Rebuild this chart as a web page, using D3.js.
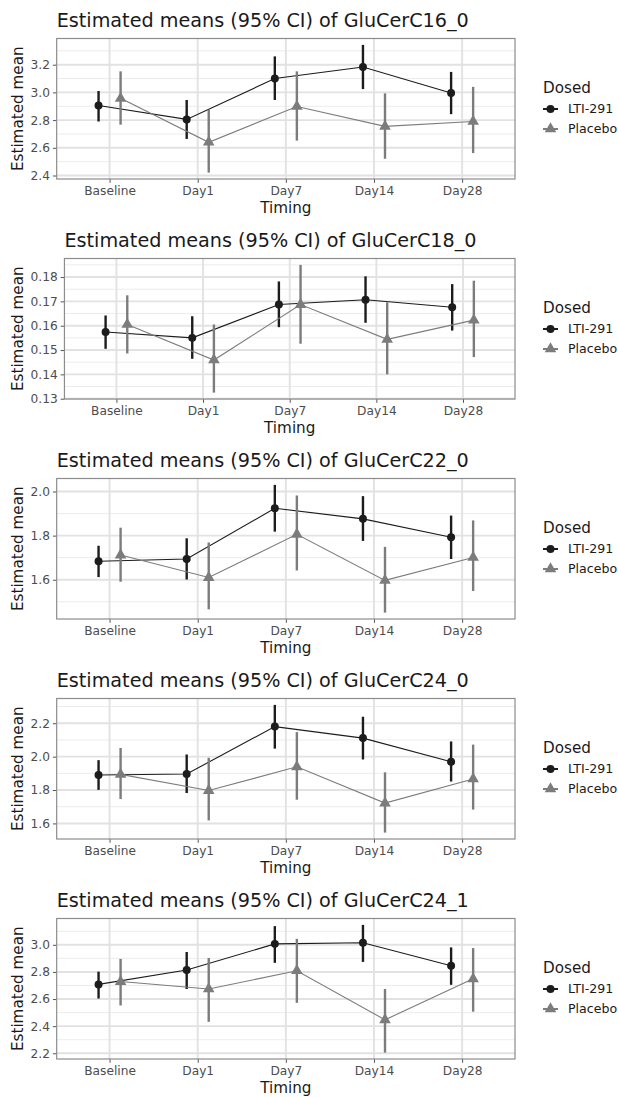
<!DOCTYPE html>
<html>
<head>
<meta charset="utf-8">
<script src="https://cdn.jsdelivr.net/npm/d3@7"></script>
<style>
body { margin: 0; background: #fff; }
text { font-family: "DejaVu Sans", sans-serif; }
</style>
</head>
<body>
<div id="chart"></div>
<script>
var timings = ["Baseline", "Day1", "Day7", "Day14", "Day28"];
var groups  = ["LTI-291", "Placebo"];

// GluCerC16_0
var c16_0LtiMean = [2.905, 2.805, 3.100, 3.183, 2.995];
var c16_0LtiLo   = [2.790, 2.664, 2.945, 3.024, 2.843];
var c16_0LtiHi   = [3.010, 2.945, 3.260, 3.343, 3.148];
var c16_0PlaMean = [2.957, 2.640, 2.898, 2.755, 2.790];
var c16_0PlaLo   = [2.767, 2.421, 2.652, 2.521, 2.562];
var c16_0PlaHi   = [3.152, 2.874, 3.152, 2.993, 3.040];
var c16_0Ticks   = [2.4, 2.6, 2.8, 3.0, 3.2];

// GluCerC18_0
var c18_0LtiMean = [0.1574, 0.1550, 0.1687, 0.1707, 0.1676];
var c18_0LtiLo   = [0.1505, 0.1464, 0.1594, 0.1612, 0.1580];
var c18_0LtiHi   = [0.1642, 0.1639, 0.1782, 0.1803, 0.1771];
var c18_0PlaMean = [0.1605, 0.1459, 0.1687, 0.1544, 0.1623];
var c18_0PlaLo   = [0.1486, 0.1325, 0.1526, 0.1400, 0.1471];
var c18_0PlaHi   = [0.1725, 0.1605, 0.1850, 0.1696, 0.1785];
var c18_0Ticks   = [0.13, 0.14, 0.15, 0.16, 0.17, 0.18];

// GluCerC22_0
var c22_0LtiMean = [1.684, 1.694, 1.924, 1.876, 1.793];
var c22_0LtiLo   = [1.612, 1.601, 1.818, 1.776, 1.694];
var c22_0LtiHi   = [1.754, 1.788, 2.030, 1.979, 1.891];
var c22_0PlaMean = [1.712, 1.610, 1.806, 1.597, 1.701];
var c22_0PlaLo   = [1.591, 1.466, 1.642, 1.451, 1.549];
var c22_0PlaHi   = [1.836, 1.769, 1.982, 1.749, 1.869];
var c22_0Ticks   = [1.6, 1.8, 2.0];

// GluCerC24_0
var c24_0LtiMean = [1.890, 1.896, 2.180, 2.111, 1.969];
var c24_0LtiLo   = [1.801, 1.782, 2.048, 1.983, 1.851];
var c24_0LtiHi   = [1.979, 2.013, 2.310, 2.239, 2.091];
var c24_0PlaMean = [1.894, 1.797, 1.939, 1.722, 1.866];
var c24_0PlaLo   = [1.746, 1.618, 1.742, 1.545, 1.683];
var c24_0PlaHi   = [2.052, 1.993, 2.147, 1.906, 2.072];
var c24_0Ticks   = [1.6, 1.8, 2.0, 2.2];

// GluCerC24_1
var c24_1LtiMean = [2.708, 2.814, 3.007, 3.015, 2.845];
var c24_1LtiLo   = [2.604, 2.674, 2.867, 2.874, 2.705];
var c24_1LtiHi   = [2.802, 2.947, 3.138, 3.147, 2.981];
var c24_1PlaMean = [2.729, 2.674, 2.809, 2.447, 2.749];
var c24_1PlaLo   = [2.553, 2.432, 2.572, 2.205, 2.507];
var c24_1PlaHi   = [2.896, 2.903, 3.044, 2.674, 2.976];
var c24_1Ticks   = [2.2, 2.4, 2.6, 2.8, 3.0];

var panels = [
    { name: "GluCerC16_0", ticks: c16_0Ticks,
      series: [[c16_0LtiMean, c16_0LtiLo, c16_0LtiHi], [c16_0PlaMean, c16_0PlaLo, c16_0PlaHi]] },
    { name: "GluCerC18_0", ticks: c18_0Ticks,
      series: [[c18_0LtiMean, c18_0LtiLo, c18_0LtiHi], [c18_0PlaMean, c18_0PlaLo, c18_0PlaHi]] },
    { name: "GluCerC22_0", ticks: c22_0Ticks,
      series: [[c22_0LtiMean, c22_0LtiLo, c22_0LtiHi], [c22_0PlaMean, c22_0PlaLo, c22_0PlaHi]] },
    { name: "GluCerC24_0", ticks: c24_0Ticks,
      series: [[c24_0LtiMean, c24_0LtiLo, c24_0LtiHi], [c24_0PlaMean, c24_0PlaLo, c24_0PlaHi]] },
    { name: "GluCerC24_1", ticks: c24_1Ticks,
      series: [[c24_1LtiMean, c24_1LtiLo, c24_1LtiHi], [c24_1PlaMean, c24_1PlaLo, c24_1PlaHi]] }
];

var width  = 618,
    height = 1097;

var colors  = ["#1c1c1c", "#7c7c7c"];
var symbols = [d3.symbol().type(d3.symbolCircle).size(50), d3.symbol().type(d3.symbolTriangle).size(58)];
var dodge   = [-0.125, 0.125];

var panelH   = 220,
    plotTop  = 38.5,
    plotH    = 140.5,
    plotR    = 515,
    labelL   = 30.5;

var svg = d3.select("#chart")
    .append("svg")
    .attr("width", width)
    .attr("height", height);

panels.forEach(function(p, i) {
    var g = svg.append("g").attr("transform", "translate(0," + (i * panelH) + ")");

    var step = p.ticks[1] - p.ticks[0];
    var fmt  = d3.format("." + d3.precisionFixed(step) + "f");

    // measure widest y label, ggplot-style left edge
    var probe = g.append("text").style("font-size", "12.2px");
    var maxW = 0;
    p.ticks.forEach(function(t) {
        probe.text(fmt(t));
        maxW = Math.max(maxW, probe.node().getComputedTextLength());
    });
    probe.remove();
    var plotL = labelL + maxW + 6.8;

    var lows  = p.series[0][1].concat(p.series[1][1]);
    var highs = p.series[0][2].concat(p.series[1][2]);
    var lo = d3.min(lows), hi = d3.max(highs), pad = (hi - lo) * 0.05;

    var y = d3.scaleLinear()
        .domain([lo - pad, hi + pad])
        .range([plotTop + plotH, plotTop]);

    var x = d3.scalePoint()
        .domain(timings)
        .range([plotL, plotR])
        .padding(0.6);

    // grid
    var minor = [];
    for (var t = p.ticks[0] - step / 2; t <= p.ticks[p.ticks.length - 1] + step; t += step) {
        var v = +t.toFixed(6);
        if (v >= y.domain()[0] && v <= y.domain()[1]) minor.push(v);
    }
    g.append("g").selectAll("line")
        .data(minor)
        .enter().append("line")
        .attr("x1", plotL).attr("x2", plotR)
        .attr("y1", function(d) { return y(d); })
        .attr("y2", function(d) { return y(d); })
        .attr("stroke", "#ececec")
        .attr("stroke-width", 1);

    g.append("g").selectAll("line")
        .data(p.ticks)
        .enter().append("line")
        .attr("x1", plotL).attr("x2", plotR)
        .attr("y1", function(d) { return y(d); })
        .attr("y2", function(d) { return y(d); })
        .attr("stroke", "#e2e2e2")
        .attr("stroke-width", 1.9);

    g.append("g").selectAll("line")
        .data(timings)
        .enter().append("line")
        .attr("x1", function(d) { return x(d); })
        .attr("x2", function(d) { return x(d); })
        .attr("y1", plotTop).attr("y2", plotTop + plotH)
        .attr("stroke", "#e2e2e2")
        .attr("stroke-width", 1.9);

    // axes
    var yAxis = g.append("g")
        .attr("transform", "translate(" + plotL + ",0)")
        .call(d3.axisLeft(y).tickValues(p.ticks).tickFormat(fmt).tickSize(3.8).tickPadding(3));
    var xAxis = g.append("g")
        .attr("transform", "translate(0," + (plotTop + plotH) + ")")
        .call(d3.axisBottom(x).tickSize(3.8).tickPadding(4));

    [yAxis, xAxis].forEach(function(ax) {
        ax.select(".domain").remove();
        ax.selectAll(".tick line").attr("stroke", "#555").attr("stroke-width", 1);
        ax.selectAll(".tick text")
            .attr("fill", "#4d4d4d")
            .style("font-size", "12.2px")
            .style("font-family", "DejaVu Sans");
    });

    g.append("rect")
        .attr("x", plotL).attr("y", plotTop)
        .attr("width", plotR - plotL).attr("height", plotH)
        .attr("fill", "none")
        .attr("stroke", "#8c8c8c")
        .attr("stroke-width", 1.2);

    // series
    var off = x.step();
    groups.forEach(function(grp, k) {
        var s = p.series[k];
        var pts = timings.map(function(tm, j) {
            return { x: x(tm) + dodge[k] * off, m: s[0][j], lo: s[1][j], hi: s[2][j] };
        });

        var lineGen = d3.line()
            .x(function(d) { return d.x; })
            .y(function(d) { return y(d.m); });

        g.append("path")
            .datum(pts)
            .attr("d", lineGen)
            .attr("fill", "none")
            .attr("stroke", colors[k])
            .attr("stroke-width", 1.1);

        g.append("g").selectAll("line")
            .data(pts)
            .enter().append("line")
            .attr("x1", function(d) { return d.x; })
            .attr("x2", function(d) { return d.x; })
            .attr("y1", function(d) { return y(d.lo); })
            .attr("y2", function(d) { return y(d.hi); })
            .attr("stroke", colors[k])
            .attr("stroke-width", 2.4);

        g.append("g").selectAll("path")
            .data(pts)
            .enter().append("path")
            .attr("d", symbols[k])
            .attr("transform", function(d) { return "translate(" + d.x + "," + y(d.m) + ")"; })
            .attr("fill", colors[k]);
    });

    // titles
    g.append("text")
        .attr("x", plotL)
        .attr("y", 26.5)
        .style("font-size", "19.2px")
        .attr("fill", "#1a1a1a")
        .text("Estimated means (95% CI) of " + p.name);

    g.append("text")
        .attr("x", (plotL + plotR) / 2)
        .attr("y", plotTop + plotH + 34)
        .style("font-size", "15.2px")
        .style("text-anchor", "middle")
        .attr("fill", "#1a1a1a")
        .text("Timing");

    g.append("text")
        .attr("transform", "translate(23," + (plotTop + plotH / 2) + ") rotate(-90)")
        .style("font-size", "15.2px")
        .style("text-anchor", "middle")
        .attr("fill", "#1a1a1a")
        .text("Estimated mean");

    // legend
    var lg = g.append("g").attr("transform", "translate(543,0)");
    lg.append("text")
        .attr("x", 0).attr("y", 92.5)
        .style("font-size", "15.2px")
        .attr("fill", "#1a1a1a")
        .text("Dosed");

    groups.forEach(function(grp, k) {
        var ky = 109 + k * 20;
        lg.append("line")
            .attr("x1", 0).attr("x2", 15)
            .attr("y1", ky).attr("y2", ky)
            .attr("stroke", colors[k])
            .attr("stroke-width", 2);
        lg.append("path")
            .attr("d", symbols[k])
            .attr("transform", "translate(7.5," + ky + ")")
            .attr("fill", colors[k]);
        lg.append("text")
            .attr("x", 25).attr("y", ky)
            .attr("dy", "0.35em")
            .style("font-size", "12.6px")
            .attr("fill", "#1a1a1a")
            .text(grp);
    });
});
</script>
</body>
</html>
